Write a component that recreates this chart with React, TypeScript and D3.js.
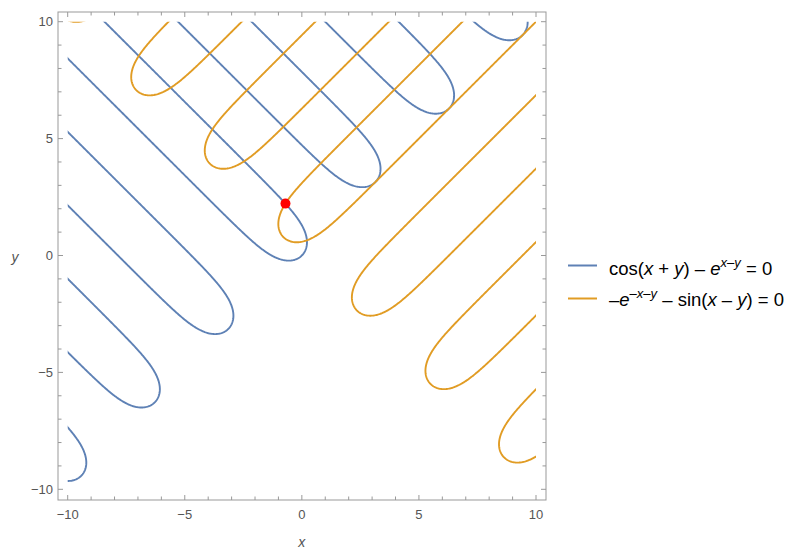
import React, { useMemo } from 'react';
import * as d3 from 'd3';

// plot range and ticks
const xDomain = [-10, 10];
const yDomain = [-10, 10];
const majorTicks = [-10, -5, 0, 5, 10];
const minorTicks = [-9, -8, -7, -6, -4, -3, -2, -1, 1, 2, 3, 4, 6, 7, 8, 9];

// the two implicit curves shown in the legend (level 0 of each)
const seriesColors = ['#5E81B5', '#E19C24'];
const equations = [
  (x: number, y: number) => Math.cos(x + y) - Math.exp(x - y),
  (x: number, y: number) => -Math.exp(-x - y) - Math.sin(x - y),
];

// the marked intersection point
const redPoint = [-0.7, 2.22];

const W = 797;
const H = 553;
const frame = { left: 58, right: 546, top: 12, bottom: 500 };

const x = d3.scaleLinear().domain(xDomain).range([67.7, 536]);
const y = d3.scaleLinear().domain(yDomain).range([489.3, 21.7]);

const GRID = 520;
const PAD = 0.4;

function contourPaths(f: (a: number, b: number) => number) {
  const x0 = xDomain[0] - PAD;
  const y0 = yDomain[0] - PAD;
  const step = (xDomain[1] - xDomain[0] + 2 * PAD) / (GRID - 1);
  const values = new Float64Array(GRID * GRID);
  for (let j = 0; j < GRID; j++) {
    for (let i = 0; i < GRID; i++) {
      values[j * GRID + i] = f(x0 + i * step, y0 + j * step);
    }
  }
  const polys = d3.contours().size([GRID, GRID]).thresholds([0])(Array.from(values));
  const line = d3.line();
  const out: string[] = [];
  polys.forEach((mp) => {
    mp.coordinates.forEach((poly) => {
      poly.forEach((ring) => {
        const pts = ring.map(([cx, cy]) => [
          x(x0 + (cx - 0.5) * step),
          y(y0 + (cy - 0.5) * step),
        ] as [number, number]);
        out.push(line(pts) || '');
      });
    });
  });
  return out;
}

const tickColor = '#999';
const labelColor = '#555';
const font = "'Liberation Sans', Arial, sans-serif";
const dash = '\u2013';

export default function App() {
  const curves = useMemo(() => equations.map(contourPaths), []);

  return (
    <svg width={W} height={H} style={{ position: 'absolute', left: 0, top: 0, background: '#fff' }} fontFamily={font}>
      <defs>
        <clipPath id="plotClip">
          <rect x={x(-10)} y={y(10)} width={x(10) - x(-10)} height={y(-10) - y(10)} />
        </clipPath>
      </defs>

      <g clipPath="url(#plotClip)">
        {curves.map((paths, k) =>
          paths.map((d, i) => (
            <path key={k + '-' + i} d={d} fill="none" stroke={seriesColors[k]} strokeWidth={1.9} strokeLinejoin="round" />
          ))
        )}
      </g>

      <circle cx={x(redPoint[0])} cy={y(redPoint[1])} r={5} fill="#FF0000" />

      {/* frame */}
      <rect x={frame.left} y={frame.top} width={frame.right - frame.left} height={frame.bottom - frame.top}
        fill="none" stroke={tickColor} strokeWidth={1} />

      {/* ticks */}
      {[...majorTicks.map((t) => [t, 5]), ...minorTicks.map((t) => [t, 3.5])].map(([t, len]) => (
        <g key={'t' + t} stroke={tickColor} strokeWidth={1}>
          <line x1={x(t)} x2={x(t)} y1={frame.bottom} y2={frame.bottom - len} />
          <line x1={x(t)} x2={x(t)} y1={frame.top} y2={frame.top + len} />
          <line x1={frame.left} x2={frame.left + len} y1={y(t)} y2={y(t)} />
          <line x1={frame.right} x2={frame.right - len} y1={y(t)} y2={y(t)} />
        </g>
      ))}

      {majorTicks.map((t) => (
        <text key={'xl' + t} x={x(t)} y={519} textAnchor="middle" fontSize={13} fill={labelColor}>
          {t < 0 ? '\u2212' + Math.abs(t) : t}
        </text>
      ))}
      {majorTicks.map((t) => (
        <text key={'yl' + t} x={frame.left - 5} y={y(t) + 4.5} textAnchor="end" fontSize={13} fill={labelColor}>
          {t < 0 ? '\u2212' + Math.abs(t) : t}
        </text>
      ))}

      <text x={x(0)} y={547} textAnchor="middle" fontSize={14} fontStyle="italic" fill={labelColor}>x</text>
      <text x={15} y={262} textAnchor="middle" fontSize={14} fontStyle="italic" fill={labelColor}>y</text>

      {/* legend */}
      <line x1={568} x2={597} y1={265.5} y2={265.5} stroke={seriesColors[0]} strokeWidth={2} />
      <text x={609} y={274.5} fontSize={18.5} fill="#000">
        cos(<tspan fontStyle="italic">x</tspan> + <tspan fontStyle="italic">y</tspan>) {dash} <tspan fontStyle="italic">e</tspan>
        <tspan fontStyle="italic" fontSize={13} dy={-8}>x{dash}y</tspan>
        <tspan dy={8}> = 0</tspan>
      </text>
      <line x1={568} x2={597} y1={298.5} y2={298.5} stroke={seriesColors[1]} strokeWidth={2} />
      <text x={609} y={305.5} fontSize={18.5} fill="#000">
        {dash}<tspan fontStyle="italic">e</tspan>
        <tspan fontStyle="italic" fontSize={13} dy={-8}>{dash}x{dash}y</tspan>
        <tspan dy={8}> {dash} sin(</tspan><tspan fontStyle="italic">x</tspan> {dash} <tspan fontStyle="italic">y</tspan>) = 0
      </text>
    </svg>
  );
}
